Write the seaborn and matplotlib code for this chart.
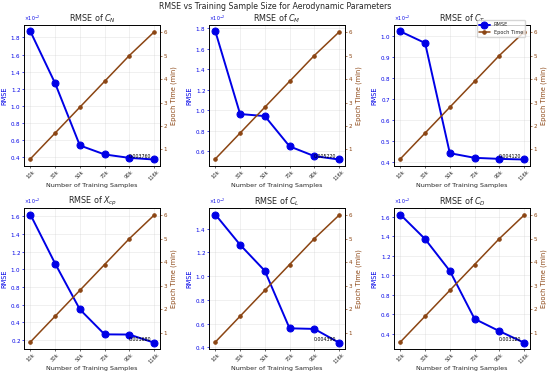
import numpy as np
import pandas as pd
import matplotlib
matplotlib.use("Agg")
import matplotlib.pyplot as plt
from matplotlib.ticker import MultipleLocator, ScalarFormatter
import seaborn as sns

# %% data
samples = ["10k", "30k", "50k", "70k", "90k", "116k"]
epoch_time = [0.6, 1.7, 2.8, 3.9, 5.0, 6.0]  # minutes

titles = ["RMSE of $C_N$", "RMSE of $C_M$", "RMSE of $C_T$",
          "RMSE of $X_{cp}$", "RMSE of $C_L$", "RMSE of $C_D$"]

rmse_cn = [0.01870, 0.01265, 0.00540, 0.00435, 0.00395, 0.00376]
rmse_cm = [0.01770, 0.00965, 0.00945, 0.00650, 0.00555, 0.00522]
rmse_ct = [0.01020, 0.00965, 0.00442, 0.00420, 0.00415, 0.00412]
rmse_xcp = [0.01620, 0.01065, 0.00545, 0.00262, 0.00260, 0.00168]
rmse_cl = [0.01520, 0.01265, 0.01045, 0.00560, 0.00555, 0.00439]
rmse_cd = [0.01620, 0.01370, 0.01045, 0.00555, 0.00430, 0.00312]
all_rmse = [rmse_cn, rmse_cm, rmse_ct, rmse_xcp, rmse_cl, rmse_cd]
tick_step = [0.002, 0.002, 0.001, 0.002, 0.002, 0.002]

rmse_col = "#0000e6"
time_col = "#8b4513"

# %% plot
sns.set_theme(style="ticks")
plt.rcParams["font.family"] = ["DejaVu Sans"]
fig, axes = plt.subplots(2, 3, figsize=(5.5, 3.79), dpi=100)

for i, ax in enumerate(axes.flat):
    df = pd.DataFrame({"samples": samples, "rmse": all_rmse[i], "time": epoch_time})
    sns.lineplot(data=df, x="samples", y="rmse", ax=ax, color=rmse_col,
                 marker="o", markersize=5, linewidth=1.4, markeredgecolor=rmse_col,
                 label="RMSE", legend=False)
    ax2 = ax.twinx()
    sns.lineplot(data=df, x="samples", y="time", ax=ax2, color=time_col,
                 marker="o", markersize=2.5, linewidth=1.1, markeredgecolor=time_col,
                 label="Epoch Time", legend=False)
    ax2.set_ylim(0.3, 6.3)
    ax2.set_yticks([1, 2, 3, 4, 5, 6])

    ax.set_title(titles[i], fontsize=5.8, pad=2)
    ax.set_xlabel("Number of Training Samples", fontsize=4.6, labelpad=1)
    ax.set_ylabel("RMSE", fontsize=4.8, color=rmse_col, labelpad=2)
    ax2.set_ylabel("Epoch Time (min)", fontsize=4.8, color=time_col, labelpad=2)
    ax.tick_params(axis="y", labelsize=4.1, colors=rmse_col, length=1.5, width=0.5, pad=1)
    ax.tick_params(axis="x", labelsize=3.7, rotation=45, length=1.5, width=0.5, pad=1)
    ax2.tick_params(axis="y", labelsize=4.1, colors=time_col, length=1.5, width=0.5, pad=1)
    ax.yaxis.set_major_locator(MultipleLocator(tick_step[i]))
    fmt = ScalarFormatter(useMathText=True)
    fmt.set_powerlimits((-2, -2))
    ax.yaxis.set_major_formatter(fmt)
    ax.yaxis.get_offset_text().set_fontsize(3.4)
    ax.yaxis.get_offset_text().set_color(rmse_col)
    ax.grid(True, alpha=0.4, linewidth=0.5)
    for sp in list(ax.spines.values()) + list(ax2.spines.values()):
        sp.set_color("black")
        sp.set_linewidth(0.6)

    last = all_rmse[i][-1]
    ax.annotate(f"{last:.6f}", xy=(len(samples) - 1, last), xytext=(-18, 1),
                textcoords="offset points", fontsize=3.4, color="black")

    if i == 2:
        h1, l1 = ax.get_legend_handles_labels()
        h2, l2 = ax2.get_legend_handles_labels()
        ax2.legend(h1 + h2, l1 + l2, loc="upper right", bbox_to_anchor=(0.98, 1.05),
                   fontsize=3.6, frameon=True, handlelength=2.2)

fig.suptitle("RMSE vs Training Sample Size for Aerodynamic Parameters", fontsize=5.7, y=0.984, va="center")
fig.subplots_adjust(left=0.044, right=0.964, top=0.934, bottom=0.079, wspace=0.36, hspace=0.3)
fig.savefig("out.png", dpi=100)
